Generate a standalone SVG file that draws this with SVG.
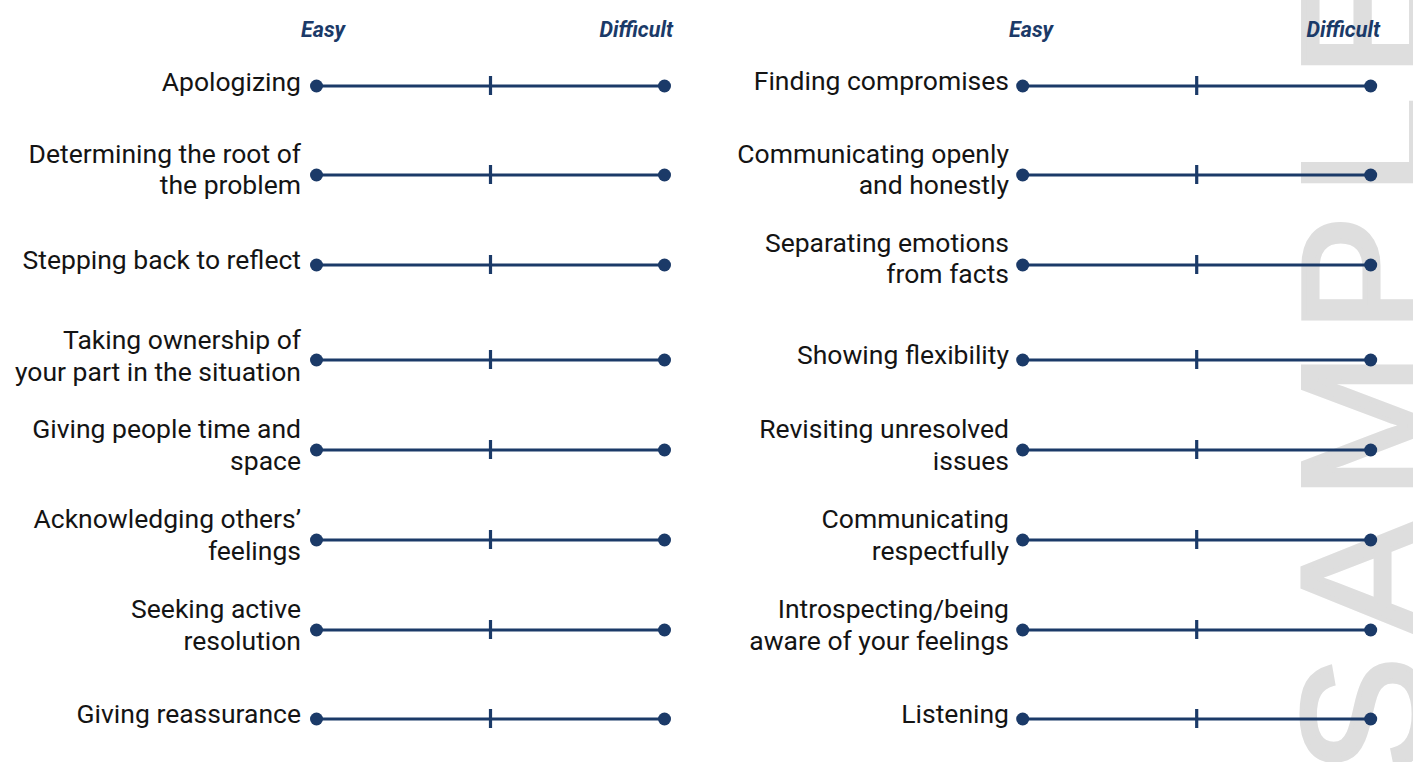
<svg xmlns="http://www.w3.org/2000/svg" xmlns:xlink="http://www.w3.org/1999/xlink" width="1413" height="762" viewBox="0 0 1413 762">
<style>
.lbl{font-family:Roboto,"Liberation Sans",sans-serif;font-size:26.5px;fill:#141414;text-anchor:end}
.hdr{font-family:Roboto,"Liberation Sans",sans-serif;font-size:21.5px;font-weight:bold;font-style:italic;fill:#1b3a68}
.wm{font-family:"Liberation Sans",Arial,sans-serif;font-size:176px;letter-spacing:20px;fill:#dedede;stroke:#dedede;stroke-width:5;stroke-linejoin:miter}
.sc line{stroke:#1b3a68;stroke-width:3.2}
.sc circle{fill:#1b3a68}
</style>
<defs>
<g id="scale" class="sc">
<line x1="0" y1="0" x2="348" y2="0"/>
<line x1="174" y1="-10" x2="174" y2="9"/>
<circle cx="0" cy="0" r="6.5"/>
<circle cx="348" cy="0" r="6.5"/>
</g>
</defs>
<rect width="1413" height="762" fill="#ffffff"/>
<g id="watermark" transform="translate(1425,774) rotate(-90)">
<text class="wm" x="0" y="0">SAMPLE</text>
</g>
<g id="headers">
<text class="hdr" x="301" y="37">Easy</text>
<text class="hdr" x="673" y="37" text-anchor="end">Difficult</text>
<text class="hdr" x="1009" y="37">Easy</text>
<text class="hdr" x="1380" y="37" text-anchor="end">Difficult</text>
</g>
<g id="connectors">
<use xlink:href="#scale" href="#scale" x="316.5" y="86"/>
<use xlink:href="#scale" href="#scale" x="316.5" y="175"/>
<use xlink:href="#scale" href="#scale" x="316.5" y="265"/>
<use xlink:href="#scale" href="#scale" x="316.5" y="360"/>
<use xlink:href="#scale" href="#scale" x="316.5" y="450"/>
<use xlink:href="#scale" href="#scale" x="316.5" y="540"/>
<use xlink:href="#scale" href="#scale" x="316.5" y="630"/>
<use xlink:href="#scale" href="#scale" x="316.5" y="719"/>
<use xlink:href="#scale" href="#scale" x="1022.7" y="86"/>
<use xlink:href="#scale" href="#scale" x="1022.7" y="175"/>
<use xlink:href="#scale" href="#scale" x="1022.7" y="265"/>
<use xlink:href="#scale" href="#scale" x="1022.7" y="360"/>
<use xlink:href="#scale" href="#scale" x="1022.7" y="450"/>
<use xlink:href="#scale" href="#scale" x="1022.7" y="540"/>
<use xlink:href="#scale" href="#scale" x="1022.7" y="630"/>
<use xlink:href="#scale" href="#scale" x="1022.7" y="719"/>
</g>
<g id="left-1"><text class="lbl" x="301" y="91">Apologizing</text></g>
<g id="left-2"><text class="lbl" x="301" y="163">Determining the root of</text><text class="lbl" x="301" y="194">the problem</text></g>
<g id="left-3"><text class="lbl" x="301" y="269">Stepping back to reflect</text></g>
<g id="left-4"><text class="lbl" x="301" y="349">Taking ownership of</text><text class="lbl" x="301" y="381">your part in the situation</text></g>
<g id="left-5"><text class="lbl" x="301" y="438">Giving people time and</text><text class="lbl" x="301" y="469.5">space</text></g>
<g id="left-6"><text class="lbl" x="301" y="528">Acknowledging others’</text><text class="lbl" x="301" y="559.5">feelings</text></g>
<g id="left-7"><text class="lbl" x="301" y="618">Seeking active</text><text class="lbl" x="301" y="649.5">resolution</text></g>
<g id="left-8"><text class="lbl" x="301" y="723">Giving reassurance</text></g>
<g id="right-1"><text class="lbl" x="1009" y="90">Finding compromises</text></g>
<g id="right-2"><text class="lbl" x="1009" y="163">Communicating openly</text><text class="lbl" x="1009" y="194">and honestly</text></g>
<g id="right-3"><text class="lbl" x="1009" y="252">Separating emotions</text><text class="lbl" x="1009" y="283">from facts</text></g>
<g id="right-4"><text class="lbl" x="1009" y="364">Showing flexibility</text></g>
<g id="right-5"><text class="lbl" x="1009" y="438">Revisiting unresolved</text><text class="lbl" x="1009" y="469.5">issues</text></g>
<g id="right-6"><text class="lbl" x="1009" y="528">Communicating</text><text class="lbl" x="1009" y="559.5">respectfully</text></g>
<g id="right-7"><text class="lbl" x="1009" y="618">Introspecting/being</text><text class="lbl" x="1009" y="649.5">aware of your feelings</text></g>
<g id="right-8"><text class="lbl" x="1009" y="723">Listening</text></g>
</svg>
